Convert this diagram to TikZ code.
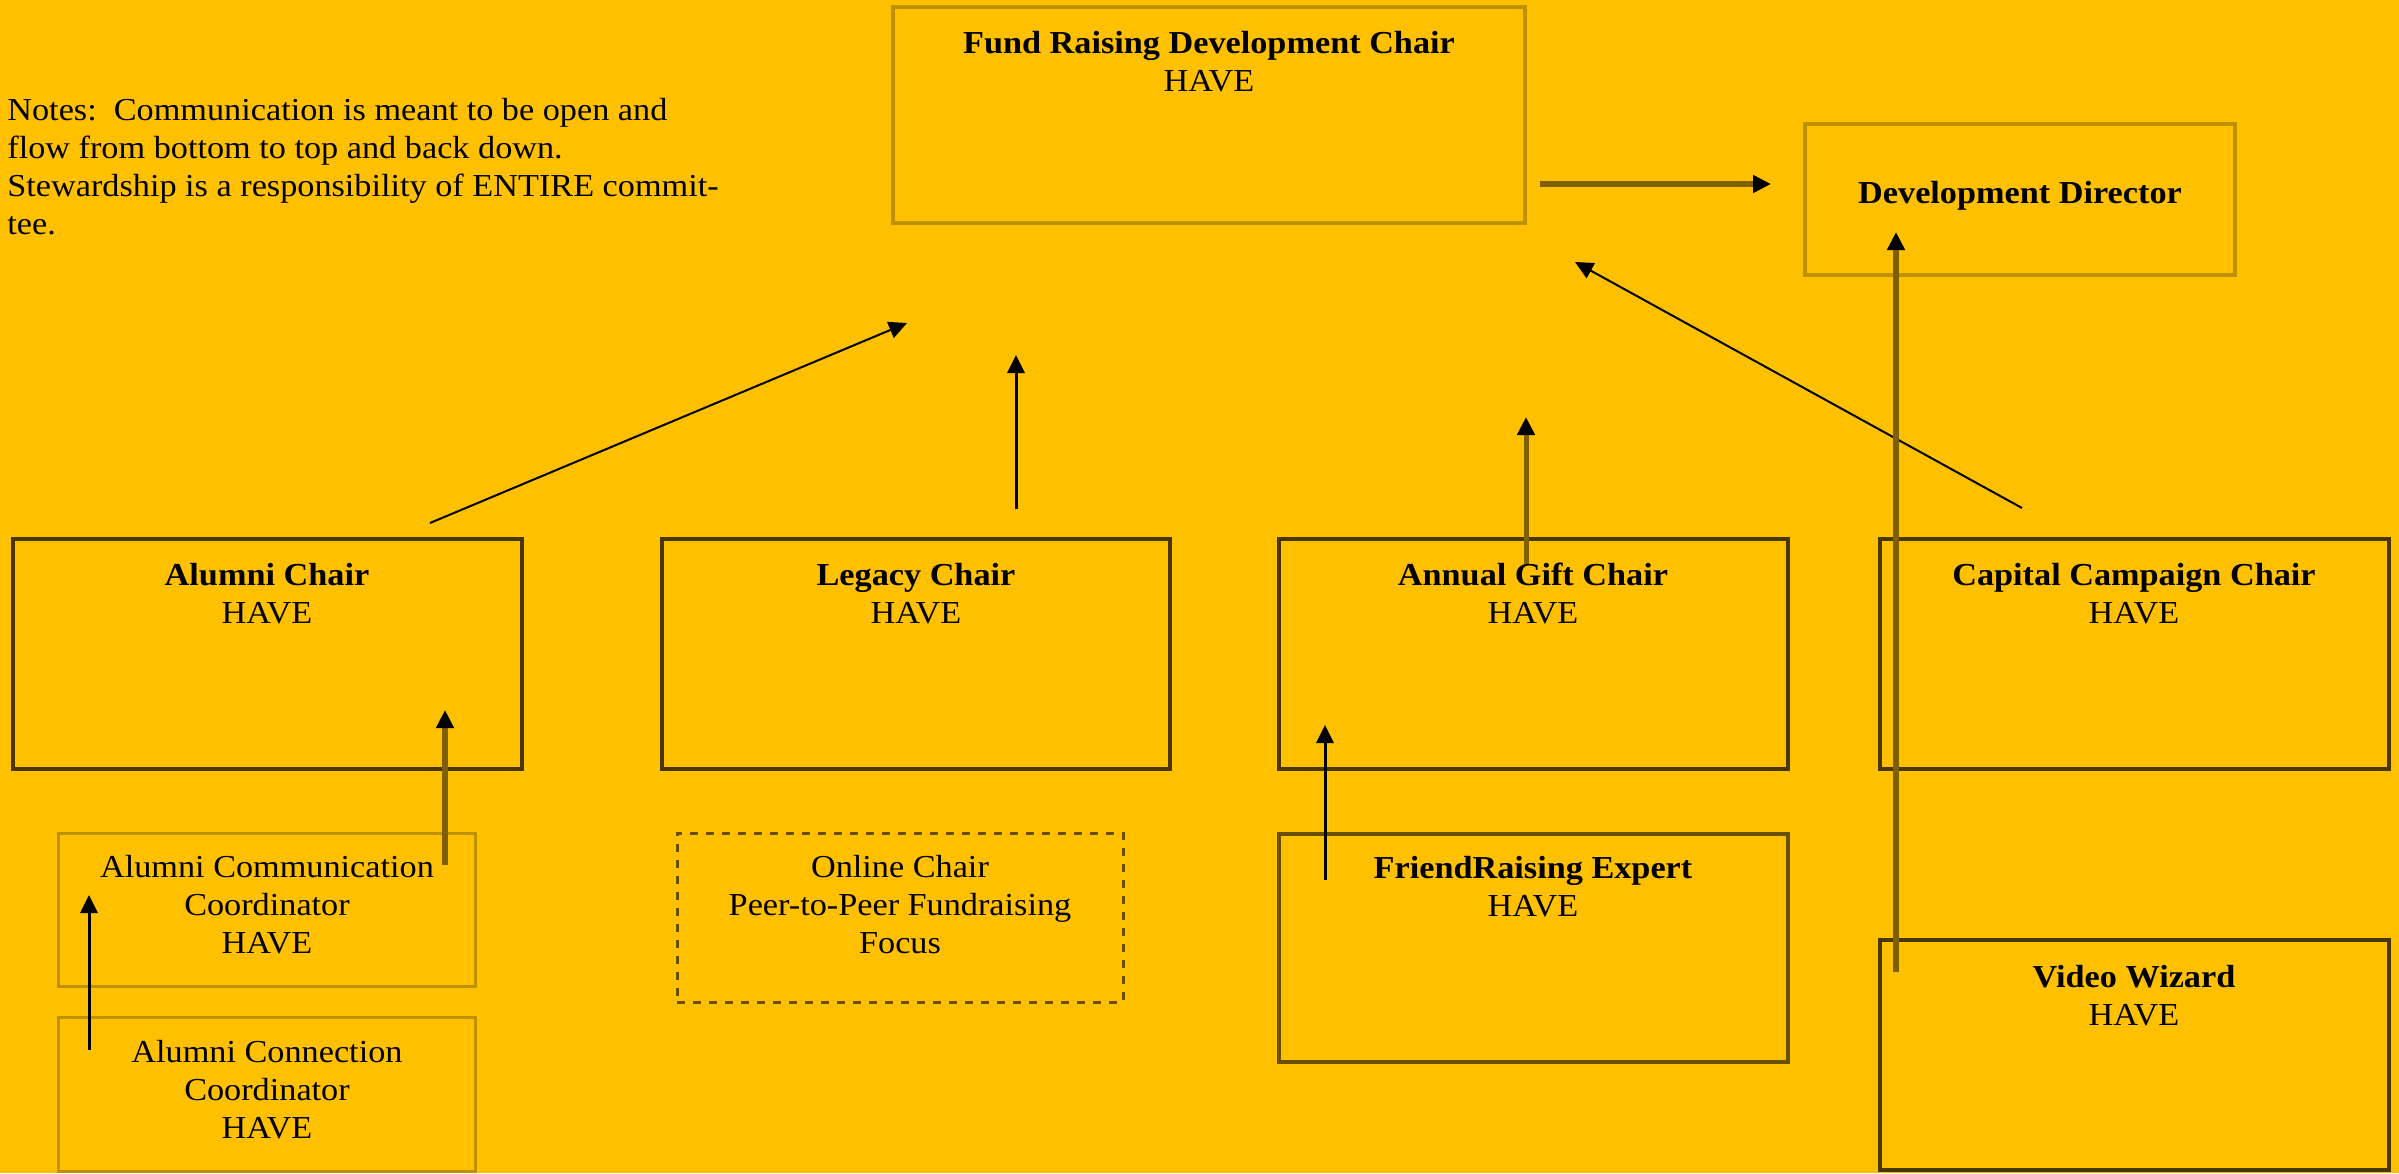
\documentclass[tikz,border=0pt]{standalone}
\usepackage{fontspec}
\setmainfont{Liberation Serif}[FakeStretch=1.07]
\usetikzlibrary{arrows.meta,fit}
\definecolor{bg}{RGB}{255,192,0}
\definecolor{lightedge}{RGB}{191,144,0}
\definecolor{darkedge}{RGB}{72,55,0}
\definecolor{midedge}{RGB}{105,80,0}
\definecolor{brownline}{RGB}{127,96,0}
\begin{document}
\begin{tikzpicture}[x=0.5pt,y=-0.5pt,
  box/.style={draw=darkedge, rectangle, inner sep=0pt, line width=1.75pt},
  lightbox/.style={box, draw=lightedge, line width=1.75pt},
  midbox/.style={box, draw=midedge},
  dashbox/.style={box, draw=midedge, line width=1.5pt, dash pattern=on 4pt off 4pt},
  title/.style={anchor=north, align=center, inner sep=0pt, font=\fontsize{16pt}{19pt}\selectfont},
  notes/.style={anchor=north west, align=left, inner sep=0pt, font=\fontsize{16pt}{19pt}\selectfont},
  arr/.style={-{Triangle[length=9pt,width=8.5pt,color=black]}},
  thinarr/.style={arr, draw=black, line width=1pt},
  midarr/.style={arr, draw=black, line width=1.5pt},
  thickarr/.style={arr, draw=brownline, line width=3.25pt},
]
\fill[bg] (0,0) rectangle (2399,1173);
\useasboundingbox (0,0) rectangle (2399,1173);

% notes
\node[notes] (notes) at (7,98) {Notes:\ \ Communication is meant to be open and\\flow from bottom to top and back down.\\Stewardship is a responsibility of ENTIRE commit-\\tee.};

% boxes
\node[lightbox, line width=2pt, fit={(893,7) (1525,223)}] (fr) {};
\node[title] (frt) at (1209,31) {\textbf{Fund Raising Development Chair}\\HAVE};

\node[lightbox, line width=2pt, fit={(1805,124) (2235,275)}] (dd) {};
\node[title] (ddt) at (2020,181) {\textbf{Development Director}};

\node[box, fit={(13,539) (522,769)}] (alumni) {};
\node[title] (alumnit) at (267,563) {\textbf{Alumni Chair}\\HAVE};

\node[box, fit={(662,539) (1170,769)}] (legacy) {};
\node[title] (legacyt) at (916,563) {\textbf{Legacy Chair}\\HAVE};

\node[box, fit={(1279,539) (1788,769)}] (annual) {};
\node[title] (annualt) at (1533,563) {\textbf{Annual Gift Chair}\\HAVE};

\node[box, fit={(1880,539) (2389,769)}] (capital) {};
\node[title] (capitalt) at (2134,563) {\textbf{Capital Campaign Chair}\\HAVE};

\node[lightbox, line width=1.5pt, fit={(58,833) (475,986)}] (acc) {};
\node[title] (acct) at (267,855) {Alumni Communication\\Coordinator\\HAVE};

\node[lightbox, line width=1.5pt, fit={(58,1017) (475,1171)}] (aconn) {};
\node[title] (aconnt) at (267,1040) {Alumni Connection\\Coordinator\\HAVE};

\node[dashbox, fit={(677,833) (1123,1002)}] (online) {};
\node[title] (onlinet) at (900,855) {Online Chair\\Peer-to-Peer Fundraising\\Focus};

\node[midbox, fit={(1279,834) (1788,1062)}] (friend) {};
\node[title] (friendt) at (1533,856) {\textbf{FriendRaising Expert}\\HAVE};

\node[box, fit={(1880,940) (2389,1170)}] (vw) {};
\node[title] (vwt) at (2134,965) {\textbf{Video Wizard}\\HAVE};

% connector end points
\coordinate (frR) at (1540,184);
\coordinate (ddL) at (1771,184);
\coordinate (capS) at (2022,508);
\coordinate (frSE) at (1575,262);
\coordinate (vwS) at (1896,972);
\coordinate (ddS) at (1896,232);
\coordinate (annS) at (1526,564);
\coordinate (frS2) at (1526,417);
\coordinate (alS) at (430,523);
\coordinate (frSW) at (907,323);
\coordinate (legS) at (1016,509);
\coordinate (frS1) at (1016,355);
\coordinate (accS) at (445,865);
\coordinate (alIn) at (445,710);
\coordinate (aconnS) at (89,1050);
\coordinate (accIn) at (89,895);
\coordinate (friendS) at (1325,880);
\coordinate (annIn) at (1325,725);

% connectors
\draw[thickarr] (frR) -- (ddL);
\draw[thinarr] (capS) -- (frSE);
\draw[thickarr] (vwS) -- (ddS);
\draw[thickarr, line width=2.5pt] (annS) -- (frS2);
\draw[thinarr] (alS) -- (frSW);
\draw[midarr] (legS) -- (frS1);
\draw[thickarr] (accS) -- (alIn);
\draw[midarr] (aconnS) -- (accIn);
\draw[midarr] (friendS) -- (annIn);
\end{tikzpicture}
\end{document}
